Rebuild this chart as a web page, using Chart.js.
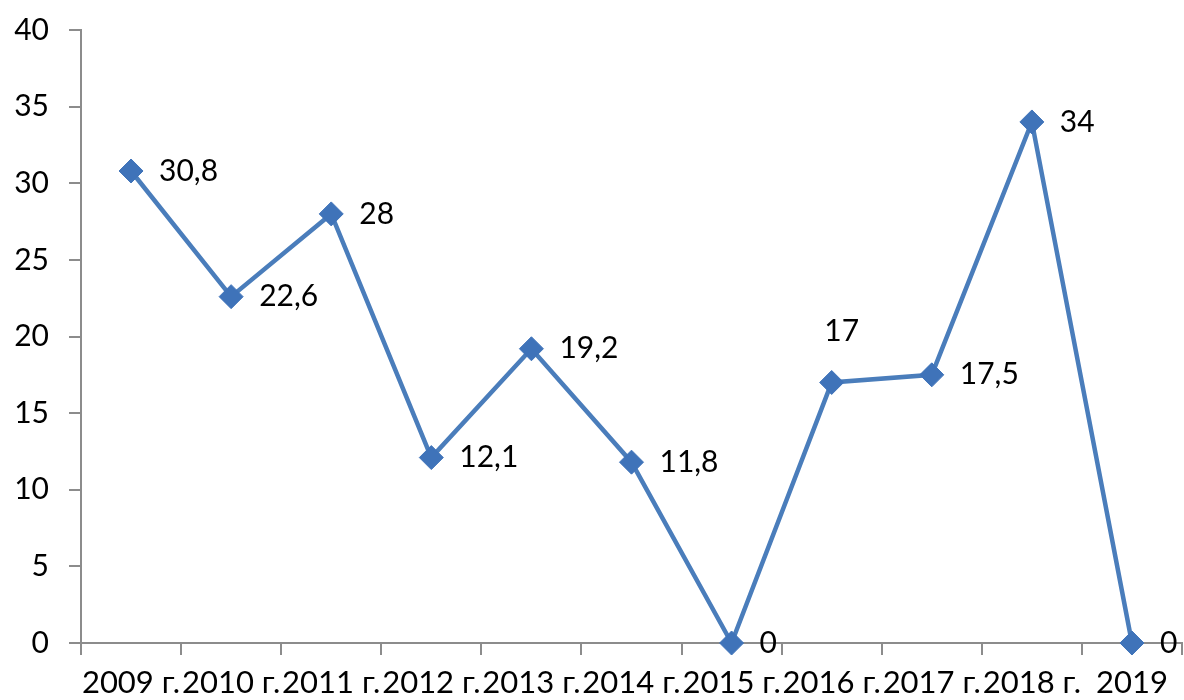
<!DOCTYPE html>
<html>
<head>
<meta charset="utf-8">
<script src="https://cdn.jsdelivr.net/npm/chart.js@4/dist/chart.umd.min.js"></script>
<style>
  html, body { margin: 0; padding: 0; background: #ffffff; }
  #wrap { width: 1184px; height: 700px; }
</style>
</head>
<body>
<div id="wrap"><canvas id="chart" width="1184" height="700"></canvas></div>
<script>
// Yearly values
const years = ['2009 г.', '2010 г.', '2011 г.', '2012 г.', '2013 г.', '2014 г.',
               '2015 г.', '2016 г.', '2017 г.', '2018 г.', '2019'];
const values = [30.8, 22.6, 28, 12.1, 19.2, 11.8, 0, 17, 17.5, 34, 0];
const yTicks = [0, 5, 10, 15, 20, 25, 30, 35, 40];

const FONT = 'Lato, "Liberation Sans", sans-serif';

// Value labels beside each marker (decimal comma); one label sits above its point
const valueLabels = {
  id: 'valueLabels',
  afterDatasetsDraw(chart, args, opts) {
    const ctx = chart.ctx;
    const meta = chart.getDatasetMeta(0);
    ctx.save();
    ctx.font = '30px ' + FONT;
    ctx.fillStyle = '#000000';
    meta.data.forEach((pt, i) => {
      const text = String(values[i]).replace('.', ',');
      ctx.textBaseline = 'middle';
      if (opts.above.includes(i)) {
        ctx.textAlign = 'center';
        ctx.fillText(text, pt.x + 10, pt.y - 51);
      } else {
        ctx.textAlign = 'left';
        ctx.fillText(text, pt.x + 28, pt.y);
      }
    });
    ctx.restore();
  }
};

new Chart(document.getElementById('chart'), {
  type: 'line',
  data: {
    labels: years,
    datasets: [{
      data: values,
      borderColor: '#4a7dbb',
      borderWidth: 4.5,
      tension: 0,
      pointStyle: 'rectRot',
      pointRadius: 12,
      pointBackgroundColor: '#3f73b9',
      pointBorderColor: '#3f73b9',
      pointBorderWidth: 1,
      clip: false
    }]
  },
  options: {
    responsive: false,
    animation: false,
    layout: { autoPadding: false, padding: { top: 30, right: 2, left: 0, bottom: 0 } },
    plugins: {
      legend: { display: false },
      tooltip: { enabled: false },
      valueLabels: { above: [7] }
    },
    scales: {
      x: {
        type: 'category',
        offset: true,
        afterFit(s) { s.height = 57; s.paddingLeft = 0; s.paddingRight = 0; },
        border: { display: true, color: '#8c8c8c', width: 2 },
        grid: {
          display: true,
          offset: true,
          drawOnChartArea: false,
          drawTicks: true,
          tickLength: 12,
          color: '#8c8c8c',
          lineWidth: 2
        },
        ticks: {
          color: '#000000',
          font: { family: FONT, size: 31 },
          padding: 9,
          maxRotation: 0,
          autoSkip: false
        }
      },
      y: {
        min: 0,
        max: 40,
        afterFit(s) { s.width = 81; s.paddingTop = 0; s.paddingBottom = 0; },
        afterBuildTicks(s) { s.ticks = yTicks.map(v => ({ value: v })); },
        border: { display: true, color: '#8c8c8c', width: 2 },
        grid: {
          display: true,
          drawOnChartArea: false,
          drawTicks: true,
          tickLength: 12,
          color: '#8c8c8c',
          lineWidth: 2
        },
        ticks: {
          color: '#000000',
          font: { family: FONT, size: 30 },
          padding: 20
        }
      }
    }
  },
  plugins: [valueLabels]
});
</script>
</body>
</html>
